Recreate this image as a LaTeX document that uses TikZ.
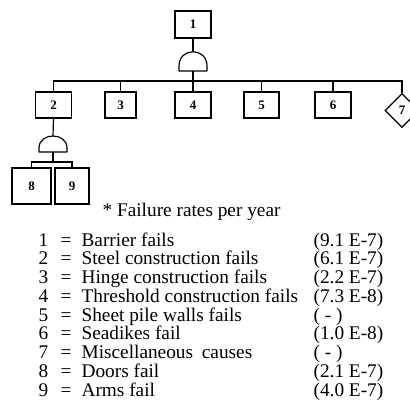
\documentclass[tikz,border=0pt]{standalone}
\usepackage{fontspec}
\setmainfont{Liberation Serif}
\usetikzlibrary{shapes.geometric}
\begin{document}
\begin{tikzpicture}[x=1pt,y=-1pt, line width=1.2pt,
  box/.style={draw, minimum width=36pt, minimum height=26pt, inner sep=0pt, font=\fontsize{13}{13}\selectfont\bfseries},
  gate/.style={draw, line join=round},
  lbl/.style={anchor=base west, inner sep=0pt, font=\fontsize{19.3}{19.3}\selectfont}]
\useasboundingbox (0,0) rectangle (410,402);
% boxes
\node[box, minimum height=27pt] (b1) at (193,24.5) {1};
\node[box] (b2) at (53.5,105) {2};
\node[box, minimum width=31pt] (b3) at (120.5,105) {3};
\node[box] (b4) at (193,105) {4};
\node[box, minimum width=35pt] (b5) at (261.5,105) {5};
\node[box] (b6) at (333,105) {6};
\node[draw, diamond, minimum width=34pt, minimum height=34pt, inner sep=0pt, font=\fontsize{13}{13}\selectfont\bfseries] (b7) at (402,110.5) {7};
\node[box, minimum width=39pt, minimum height=36pt] (b8) at (31.5,186) {8};
\node[box, minimum width=34pt, minimum height=36pt] (b9) at (72,186) {9};
% gate 1
\coordinate (g1t) at (193,51.5);
\coordinate (g1b) at (193,71);
\draw[gate] (179,71) -- (179,66) .. controls (179,47) and (207,47) .. (207,66) -- (207,71) -- cycle;
\coordinate (bar) at (193,81);
\draw (b1.south) -- (g1t);
\draw (g1b) -- (bar);
\draw (b2.north) -- (b2.north |- bar) -- (b7.north |- bar) -- (b7.north);
\foreach \n in {b3,b4,b5,b6} \draw (\n.north) -- (\n.north |- bar);
% gate 2
\coordinate (g2t) at (53,136);
\coordinate (g2b) at (53,152);
\draw[gate] (39,152) -- (39,148) .. controls (39,132) and (67,132) .. (67,148) -- (67,152) -- cycle;
\coordinate (bar2) at (53,162);
\draw (b2.south) -- (g2t);
\draw (g2b) -- (bar2);
\draw (b8.north) -- (b8.north |- bar2) -- (b9.north |- bar2) -- (b9.north);
% legend
\node[lbl] (hdr) at (102,216) {* Failure rates per year};
\foreach \i/\d/\r in {1/Barrier fails/(9.1 E-7),
  2/Steel construction fails/(6.1 E-7),
  3/Hinge construction fails/(2.2 E-7),
  4/Threshold construction fails/(7.3 E-8),
  5/Sheet pile walls fails/( - ),
  6/Seadikes fail/(1.0 E-8),
  7/Miscellaneous\hspace{4pt} causes/( - ),
  8/Doors fail/(2.1 E-7),
  9/Arms fail/(4.0 E-7)}{
  \pgfmathsetmacro\yy{246+18.75*(\i-1)}
  \node[lbl] (n\i) at (38,\yy) {\i};
  \node[lbl] (e\i) at (60,\yy) {=};
  \node[lbl] (d\i) at (81,\yy) {\d};
  \node[lbl] (r\i) at (313,\yy) {\r};
}
\end{tikzpicture}
\end{document}
